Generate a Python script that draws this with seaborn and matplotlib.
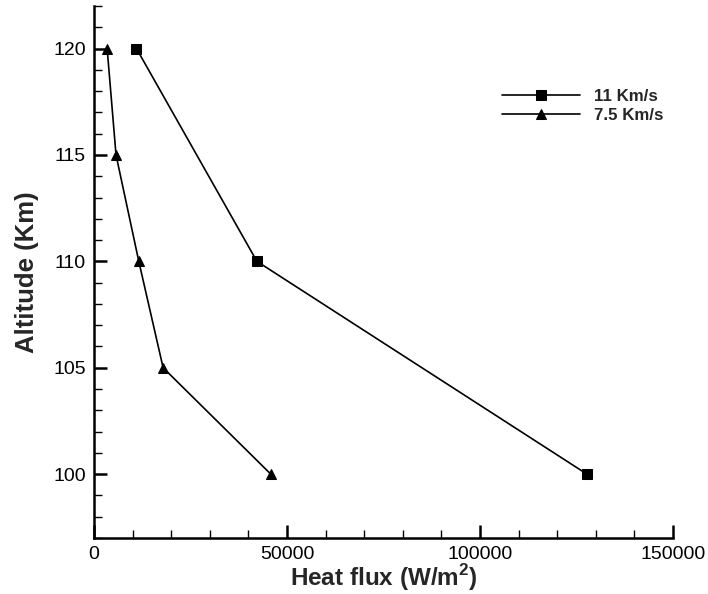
import matplotlib
matplotlib.use("Agg")
import matplotlib.pyplot as plt
from matplotlib.ticker import MultipleLocator
import seaborn as sns
import pandas as pd

# Stagnation heat flux versus altitude for two entry velocities
alt_11 = [120, 110, 100]
flux_11 = [11000, 42200, 127700]

alt_75 = [120, 115, 110, 105, 100]
flux_75 = [3400, 5700, 11600, 17900, 45800]

labels = ["11 Km/s", "7.5 Km/s"]

sns.set_theme(style="white")
plt.rcParams["font.family"] = ["Liberation Sans", "DejaVu Sans"]
plt.rcParams["mathtext.fontset"] = "custom"
plt.rcParams["mathtext.rm"] = "Liberation Sans"
plt.rcParams["mathtext.bf"] = "Liberation Sans:bold"

df11 = pd.DataFrame({"flux": flux_11, "alt": alt_11})
df75 = pd.DataFrame({"flux": flux_75, "alt": alt_75})

fig = plt.figure(figsize=(7.08, 5.94), dpi=100)
ax = fig.add_axes([0.1328, 0.0943, 0.8178, 0.8956])

sns.lineplot(data=df11, x="flux", y="alt", sort=False, ax=ax, color="black",
             marker="s", markersize=6.5, markeredgecolor="black", linewidth=1.2,
             label=labels[0])
sns.lineplot(data=df75, x="flux", y="alt", sort=False, ax=ax, color="black",
             marker="^", markersize=6.5, markeredgecolor="black", linewidth=1.2,
             label=labels[1])

ax.set_xlim(0, 150000)
ax.set_ylim(97, 122)
ax.xaxis.set_major_locator(MultipleLocator(50000))
ax.xaxis.set_minor_locator(MultipleLocator(10000))
ax.yaxis.set_major_locator(MultipleLocator(5))
ax.yaxis.set_minor_locator(MultipleLocator(1))

for side in ("top", "right"):
    ax.spines[side].set_visible(False)
for side in ("left", "bottom"):
    ax.spines[side].set_linewidth(1.8)
    ax.spines[side].set_color("black")

ax.tick_params(which="major", direction="in", length=9.5, width=1.8,
               labelsize=14, colors="black", pad=6)
ax.tick_params(which="minor", direction="in", length=5.5, width=1.0,
               colors="black")
ax.tick_params(axis="y", which="both", left=True)
ax.tick_params(axis="x", which="both", bottom=True)

ax.set_xlabel(r"Heat flux (W/m$^\mathbf{2}$)", fontsize=17.5, fontweight="bold",
              labelpad=-1)
ax.set_ylabel("Altitude (Km)", fontsize=18.5, fontweight="bold", labelpad=10)

leg = ax.legend(loc="upper left", bbox_to_anchor=(0.679, 0.872),
                frameon=False, handlelength=4.55, handletextpad=0.85,
                labelspacing=0.22, prop={"size": 12.2, "weight": "bold"})

fig.savefig("out.png", dpi=100)
